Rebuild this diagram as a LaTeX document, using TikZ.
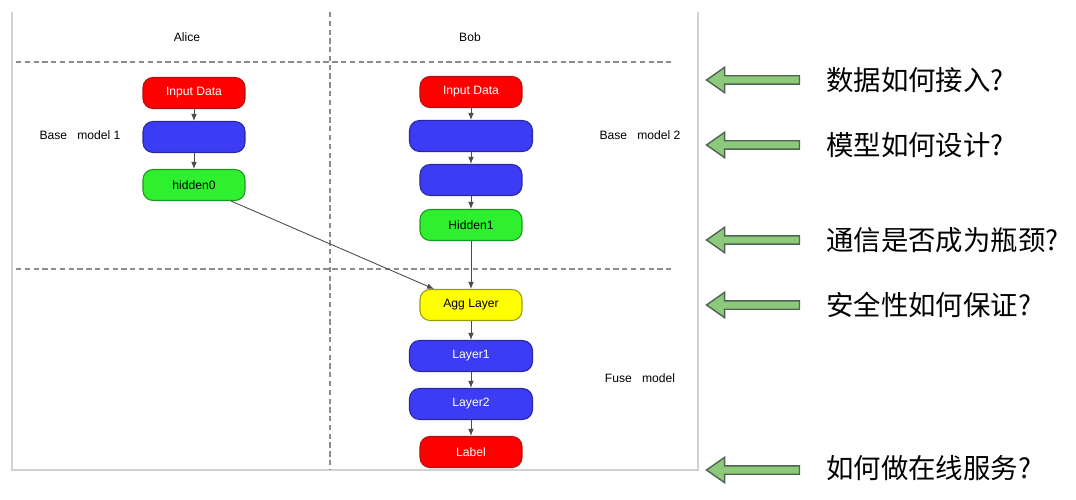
\documentclass[tikz,border=0pt]{standalone}
\usepackage{fontspec}
\setmainfont{Liberation Sans}
\newfontfamily\cjk{Noto Sans CJK SC}
\usepackage{tikz}
\usetikzlibrary{arrows.meta,shapes.arrows}

\definecolor{boxred}{HTML}{FF0000}
\definecolor{boxredline}{HTML}{B01010}
\definecolor{boxblue}{HTML}{3C3CF5}
\definecolor{boxblueline}{HTML}{2828A0}
\definecolor{boxgreen}{HTML}{2EF02E}
\definecolor{boxgreenline}{HTML}{179A17}
\definecolor{boxyellow}{HTML}{FFFF00}
\definecolor{boxyellowline}{HTML}{9A9A10}
\definecolor{askgreen}{HTML}{8DC97A}
\definecolor{askline}{HTML}{4F6452}

\begin{document}
\begin{tikzpicture}%
    [x=0.02cm, y=-0.02cm,
    layer/.style={draw, rounded corners=0.2cm, minimum width=2.04cm, minimum height=0.62cm,
                  inner sep=0mm, line width=0.6pt, font=\fontsize{6.9}{8}\selectfont},
    wide/.style={minimum width=2.46cm},
    redbox/.style={layer, fill=boxred, draw=boxredline, text=white},
    bluebox/.style={layer, fill=boxblue, draw=boxblueline, text=white},
    greenbox/.style={layer, fill=boxgreen, draw=boxgreenline, text=black},
    yellowbox/.style={layer, fill=boxyellow, draw=boxyellowline, text=black},
    edge/.style={draw=black!70, line width=0.5pt, -{Latex[length=4pt,width=3.2pt]}},
    sep/.style={draw=black!45, dash pattern=on 3pt off 2pt, line width=0.6pt},
    tag/.style={font=\fontsize{6.9}{8}\selectfont},
    ask/.style={single arrow, shape border rotate=180, draw=askline, fill=askgreen,
                minimum height=1.86cm, inner sep=0.07cm, single arrow head extend=0.17cm,
                single arrow tip angle=70, line width=0.8pt},
    question/.style={anchor=west, inner sep=0mm, font=\cjk\fontsize{15.6}{18}\selectfont}]

    \useasboundingbox (0,0) rectangle (1076,500);

    % frame and separators
    \draw [black!18, line width=0.8pt] (12,12) -- (12,470) -- (698,470) -- (698,12);
    \draw [sep] (330,12) -- (330,470);
    \draw [sep] (16,62) -- (672,62);
    \draw [sep] (16,269) -- (672,269);

    \node [tag] (alice) at (187,37) {Alice};
    \node [tag] (bob)   at (470,37) {Bob};
    \node [tag] (base1) at (80,135)  {Base~~~model 1};
    \node [tag] (base2) at (640,135) {Base~~~model 2};
    \node [tag] (fuse)  at (640,378) {Fuse~~~model};

    % Alice
    \node [redbox]   (a1) at (194,93)  {Input Data};
    \node [bluebox]  (a2) at (194,137) {};
    \node [greenbox] (a3) at (194,185) {hidden0};

    % Bob
    \node [redbox]        (b1) at (471,92)  {Input Data};
    \node [bluebox, wide] (b2) at (471,136) {};
    \node [bluebox]       (b3) at (471,180) {};
    \node [greenbox]      (b4) at (471,225) {Hidden1};

    % fuse
    \node [yellowbox]     (agg)   at (471,305) {Agg Layer};
    \node [bluebox, wide] (l1)    at (471,356) {Layer1};
    \node [bluebox, wide] (l2)    at (471,404) {Layer2};
    \node [redbox]        (label) at (471,452) {Label};

    \draw [edge] (a1) to (a2);
    \draw [edge] (a2) to (a3);
    \draw [edge] (b1) to (b2);
    \draw [edge] (b2) to (b3);
    \draw [edge] (b3) to (b4);
    \draw [edge] (b4) to (agg);
    \draw [edge] (a3) to (agg);
    \draw [edge] (agg) to (l1);
    \draw [edge] (l1) to (l2);
    \draw [edge] (l2) to (label);

    % questions
    \node [ask] (q1arrow) at (756,80)  {};
    \node [ask] (q2arrow) at (756,145) {};
    \node [ask] (q3arrow) at (756,240) {};
    \node [ask] (q4arrow) at (756,305) {};
    \node [ask] (q5arrow) at (756,470) {};

    \node [question] (q1) at (826,80)  {数据如何接入?};
    \node [question] (q2) at (826,145) {模型如何设计?};
    \node [question] (q3) at (826,240) {通信是否成为瓶颈?};
    \node [question] (q4) at (826,305) {安全性如何保证?};
    \node [question] (q5) at (826,468) {如何做在线服务?};
  \end{tikzpicture}
\end{document}
